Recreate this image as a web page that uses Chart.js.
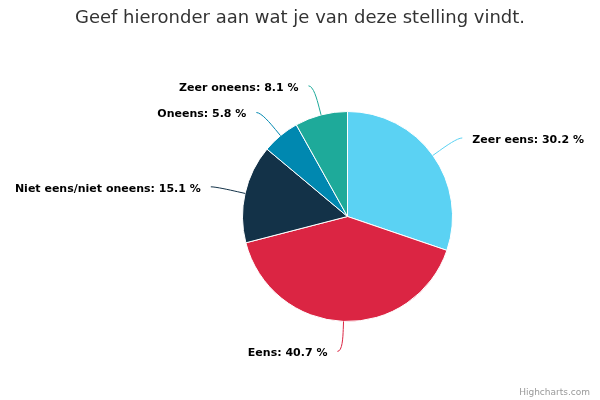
<!DOCTYPE html>
<html>
<head>
<meta charset="utf-8">
<script src="https://cdn.jsdelivr.net/npm/chart.js@4"></script>
<style>
  html, body { margin: 0; padding: 0; background: #fff; }
  #wrap { width: 600px; height: 400px; }
</style>
</head>
<body>
<div id="wrap"><canvas id="myChart" width="600" height="400"></canvas></div>
<script>
var categories = ['Zeer eens', 'Eens', 'Niet eens/niet oneens', 'Oneens', 'Zeer oneens'];
var values = [30.2, 40.7, 15.1, 5.8, 8.1];
var colors = ['#5bd2f3', '#db2543', '#133248', '#0088b0', '#1eaa9a'];

var titleText = 'Geef hieronder aan wat je van deze stelling vindt.';

// labels + soft connectors, highcharts style; also title and credits
var pieLabels = {
  id: 'pieLabels',
  afterDatasetsDraw: function(chart) {
    var ctx = chart.ctx;
    var meta = chart.getDatasetMeta(0);
    ctx.save();

    ctx.font = '18px "DejaVu Sans"';
    ctx.fillStyle = '#333';
    ctx.textAlign = 'center';
    ctx.textBaseline = 'middle';
    ctx.fillText(titleText, 300, 18);

    ctx.font = 'bold 11px "DejaVu Sans"';
    meta.data.forEach(function(arc, i) {
      var p = arc.getProps(['x', 'y', 'startAngle', 'endAngle', 'outerRadius']);
      var a = (p.startAngle + p.endAngle) / 2;
      var r = p.outerRadius;
      var d = 30;
      var ax = p.x + (r + d) * Math.cos(a);
      var ay = p.y + (r + d) * Math.sin(a);
      var right = Math.cos(a) >= 0;
      var sign = right ? 1 : -1;
      var ex = ax + 5 * sign;
      var tx = p.x + r * Math.cos(a), ty = p.y + r * Math.sin(a);
      var bx = p.x + (r + 8) * Math.cos(a), by = p.y + (r + 8) * Math.sin(a);
      ctx.strokeStyle = colors[i];
      ctx.lineWidth = 1;
      ctx.beginPath();
      ctx.moveTo(ex, ay);
      ctx.bezierCurveTo(ax, ay, 2 * bx - tx, 2 * by - ty, bx, by);
      ctx.lineTo(tx, ty);
      ctx.stroke();
      ctx.fillStyle = '#000';
      ctx.textAlign = right ? 'left' : 'right';
      ctx.fillText(categories[i] + ': ' + values[i].toFixed(1) + ' %', ax + 15 * sign, ay + 2);
    });

    ctx.font = '9px "DejaVu Sans"';
    ctx.fillStyle = '#999';
    ctx.textAlign = 'right';
    ctx.textBaseline = 'alphabetic';
    ctx.fillText('Highcharts.com', 590, 395);
    ctx.restore();
  }
};

var ctx = document.getElementById('myChart').getContext('2d');
var pieChart = new Chart(ctx, {
  type: 'pie',
  data: {
    labels: categories,
    datasets: [{
      data: values,
      backgroundColor: colors,
      borderColor: '#fff',
      borderWidth: 1,
      hoverOffset: 0
    }]
  },
  options: {
    responsive: false,
    animation: false,
    layout: {
      padding: { left: 242, right: 147, top: 111, bottom: 78 }
    },
    plugins: {
      legend: { display: false },
      tooltip: { enabled: false },
      title: { display: false }
    }
  },
  plugins: [pieLabels]
});
</script>
</body>
</html>
